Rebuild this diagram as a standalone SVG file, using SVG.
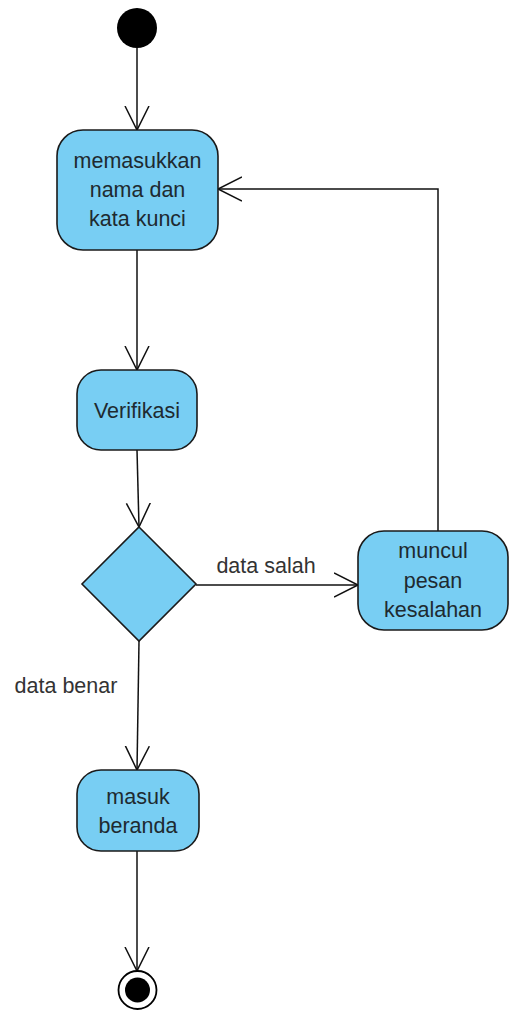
<svg xmlns="http://www.w3.org/2000/svg" width="510" height="1010" viewBox="0 0 510 1010">
<defs>
<style>
.node{fill:#78CEF3;stroke:#1a1a1a;stroke-width:1.6}
.t{font-family:"Liberation Sans",Arial,sans-serif;font-size:21.5px;fill:#1e2a30;text-anchor:middle}
.lbl{font-family:"Liberation Sans",Arial,sans-serif;font-size:21.5px;fill:#333;text-anchor:middle}
.edge{fill:none;stroke:#111;stroke-width:1.5}
</style>
<marker id="open" markerWidth="26" markerHeight="26" refX="24" refY="12" orient="auto" markerUnits="userSpaceOnUse" viewBox="0 0 26 24">
<path d="M0,0 L24,12 L0,24" fill="none" stroke="#111" stroke-width="1.5"/>
</marker>
</defs>
<rect width="510" height="1010" fill="#fff"/>
<g id="connectors">
<line class="edge" x1="137" y1="48" x2="137" y2="130" marker-end="url(#open)"/>
<line class="edge" x1="137" y1="250" x2="137" y2="370" marker-end="url(#open)"/>
<line class="edge" x1="137" y1="450" x2="139" y2="527" marker-end="url(#open)"/>
<line class="edge" x1="196" y1="585" x2="358" y2="585" marker-end="url(#open)"/>
<polyline class="edge" points="438,531 438,189 218,189" marker-end="url(#open)"/>
<line class="edge" x1="139" y1="641" x2="137" y2="770" marker-end="url(#open)"/>
<line class="edge" x1="137" y1="851" x2="137" y2="971" marker-end="url(#open)"/>
<text class="lbl" x="266" y="573">data salah</text>
<text class="lbl" x="66" y="693">data benar</text>
</g>
<g id="start"><circle cx="137" cy="28" r="20" fill="#000"/></g>
<g id="n1">
<rect class="node" x="57" y="130" width="161" height="120" rx="26"/>
<text class="t" x="137.5" y="168">memasukkan</text>
<text class="t" x="137.5" y="197">nama dan</text>
<text class="t" x="137.5" y="226">kata kunci</text>
</g>
<g id="n2">
<rect class="node" x="77" y="370" width="120" height="80" rx="24"/>
<text class="t" x="137" y="418">Verifikasi</text>
</g>
<g id="decision">
<polygon class="node" points="139,527 196,584 139,641 82,584"/>
</g>
<g id="n3">
<rect class="node" x="358" y="531" width="150" height="99" rx="26"/>
<text class="t" x="433" y="558">muncul</text>
<text class="t" x="433" y="588">pesan</text>
<text class="t" x="433" y="617">kesalahan</text>
</g>
<g id="n4">
<rect class="node" x="77" y="770" width="122" height="81" rx="24"/>
<text class="t" x="138" y="804">masuk</text>
<text class="t" x="138" y="833">beranda</text>
</g>
<g id="end">
<circle cx="137.5" cy="990" r="19" fill="#fff" stroke="#000" stroke-width="1.8"/>
<circle cx="137.5" cy="990" r="12.5" fill="#000"/>
</g>
</svg>
